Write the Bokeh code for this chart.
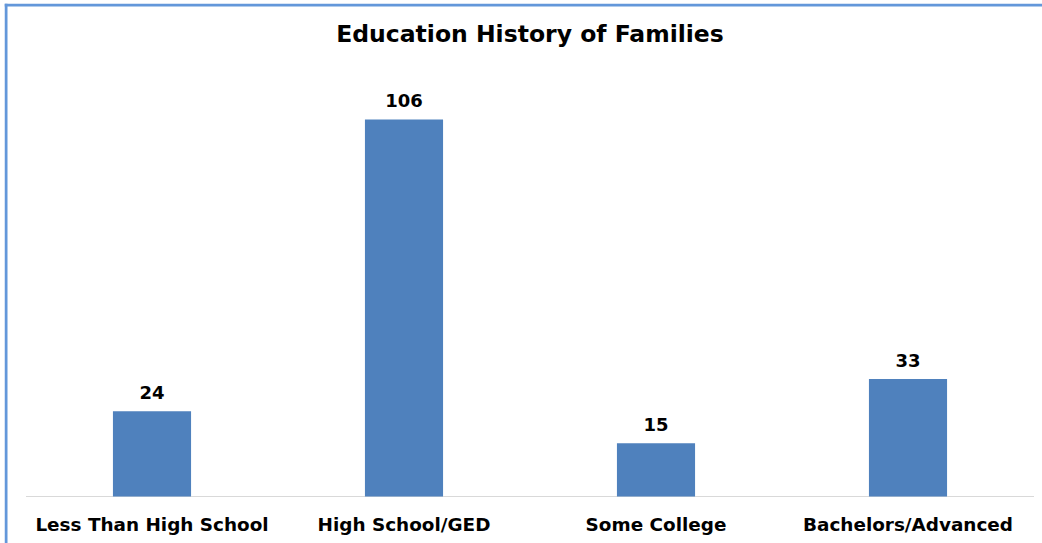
from bokeh.plotting import figure
from bokeh.models import ColumnDataSource, Range1d, Span
from bokeh.core.properties import value
from bokeh.embed import file_html
from bokeh.resources import INLINE

title_text = "Education History of Families"
categories = ["Less Than High School", "High School/GED", "Some College", "Bachelors/Advanced"]
counts = [24, 106, 15, 33]
count_labels = [str(v) for v in counts]

BAR = "#4F81BD"
BORDER = "#6397DA"
AXIS = "#D9D9D9"
FONT = "DejaVu Sans"

# layout (canvas pixels)
W, H = 1042, 543
FRAME_L, FRAME_T = 4, 3
SLOT = 252.0          # px per category
FIRST_C = 151.5       # px centre of first category
BASE = 496.0          # px baseline
PPU = 3.557           # px per count unit

n = len(categories)
xs = list(range(n))
x0 = -(FIRST_C - FRAME_L) / SLOT
x1 = x0 + (W - FRAME_L) / SLOT
y1 = (BASE - FRAME_T) / PPU
y0 = -(H - BASE) / PPU

src = ColumnDataSource(dict(x=xs, cat=categories, val=counts, lab=count_labels))

p = figure(
    x_range=Range1d(x0, x1), y_range=Range1d(y0, y1),
    width=W, height=H,
    output_backend="svg", toolbar_location=None,
    x_axis_location=None, y_axis_location=None,
    min_border_left=FRAME_L, min_border_top=FRAME_T,
    min_border_right=0, min_border_bottom=0,
)
p.outline_line_color = None
p.xgrid.grid_line_color = None
p.ygrid.grid_line_color = None

# chart border (left and top edges)
p.add_layout(Span(location=x0 + 1.5 / SLOT, dimension="height", line_color=BORDER, line_width=3))
p.add_layout(Span(location=y1 - 1.5 / PPU, dimension="width", line_color=BORDER, line_width=3))

# baseline
p.segment(x0=[-0.5], x1=[n - 0.5], y0=[0], y1=[0], line_color=AXIS, line_width=1)

p.vbar(x="x", top="val", width=0.31, bottom=0, source=src, fill_color=BAR, line_color=None)

p.text(x="x", y="val", text="lab", source=src, text_align="center",
       text_baseline="alphabetic", y_offset=-19, text_font=value(FONT),
       text_font_size="18px", text_font_style="bold", text_color="black")

p.text(x="x", y=0, text="cat", source=src, text_align="center",
       text_baseline="alphabetic", y_offset=28, text_font=value(FONT),
       text_font_size="18.4px", text_font_style="bold", text_color="black")

p.text(x=[(n - 1) / 2], y=[y1], text=[title_text], text_align="center",
       text_baseline="alphabetic", y_offset=30, text_font=value(FONT),
       text_font_size="23.5px", text_font_style="bold", text_color="black")

open("out.html", "w").write(file_html(p, INLINE))
